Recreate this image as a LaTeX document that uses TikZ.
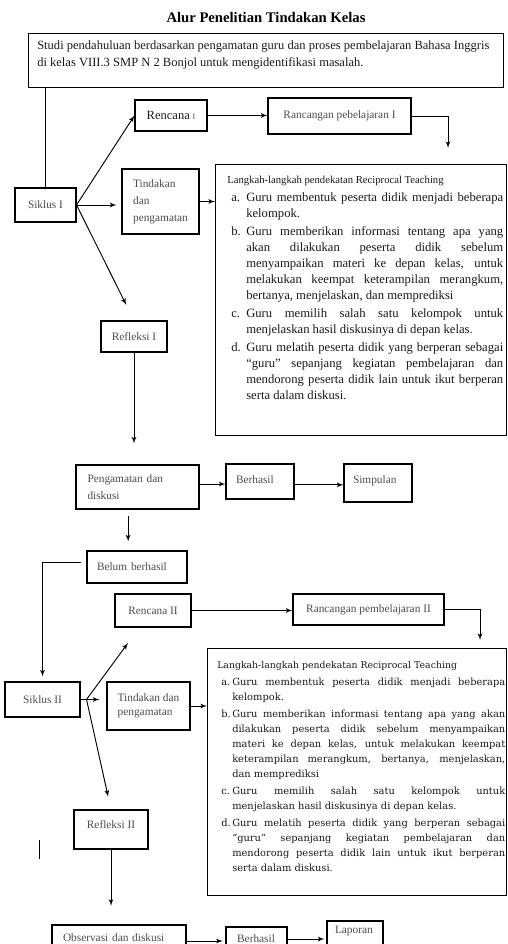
\documentclass[tikz,border=0pt]{standalone}
\usepackage{fontspec}
\setmainfont{Liberation Serif}
\newfontfamily\cambriafont{DejaVu Serif}
\usepackage{tikz}
\usetikzlibrary{arrows,positioning}

% one step of the list: hanging indent, label, text
\newcommand{\butir}[3]{\par\hangindent=#1\hangafter=1\noindent\makebox[#1][l]{\hspace{3pt}#2}#3\par}

\begin{document}
\begin{tikzpicture}[
    x=0.75pt, y=-0.75pt,
    >=latex',
    font=\normalfont,
    boxdim/.style 2 args={
		minimum width=#1*0.75pt,
		minimum height=#2*0.75pt
	},
    stagebox/.style={
		rectangle,
		draw=black,
		line width=0.8pt,
		inner sep=0pt,
		text=black!70,
		font=\fontsize{8.5}{12.75}\selectfont
	},
	raised/.style={
		text height=6pt,
		text depth=#1
	},
	stepsframe/.style={
		rectangle,
		draw=black,
		line width=0.9pt,
		inner sep=0pt,
		anchor=north west
	},
	stepstext/.style={
		inner sep=0pt,
		align=justify,
		text=black!90
	},
	link/.style={
		->,
		line width=0.7pt
	}
  ]
  \useasboundingbox (0,0) rectangle (507,944);

  % title and the first study
  \node [font=\bfseries\fontsize{11}{13}\selectfont] (judul) at (266,18) {Alur Penelitian Tindakan Kelas};

  \node [stepsframe, boxdim={475}{54}] (studi) at (28,33) {};
  \node [below right=5.5pt and 6.75pt of studi.north west, inner sep=0pt, align=left, text=black!90,
         font=\fontsize{9.4}{12.75}\selectfont] (studiteks)
 {Studi pendahuluan berdasarkan pengamatan guru dan proses pembelajaran Bahasa Inggris\\
  di kelas VIII.3 SMP N 2 Bonjol untuk mengidentifikasi masalah.};

  % cycle I
  \node [stagebox, boxdim={61}{34}] (siklussatu) at (45.5,205) {Siklus I};

  \node [stagebox, boxdim={72}{31}] (rencanasatu) at (171,115.5)
 {{\fontsize{9.4}{11}\selectfont\color{black!90}Rencana} {\fontsize{6}{7}\selectfont I}};

  \node [stagebox, boxdim={143}{36}] (rancangansatu) at (339.5,116) {Rancangan pebelajaran I};

  \node [stagebox, boxdim={77}{65}] (tindakansatu) at (160.5,201.5)
 {%
 \begin{tabular}{@{}l@{}}
  Tindakan\\
  dan\\
  pengamatan
 \end{tabular}
 };

  \node [stepsframe, boxdim={290.5}{271}] (langkahsatu) at (215,164) {};
  \node [stepstext, below right=9pt and 9pt of langkahsatu.north west, text width=207pt] (isisatu)
 {%
  {\fontsize{8}{11}\selectfont Langkah-langkah pendekatan Reciprocal Teaching\par}
  \fontsize{9.5}{12}\selectfont\parskip=1.5pt\tolerance=10000\hyphenpenalty=10000
  \butir{14.25pt}{a.}{Guru membentuk peserta didik menjadi beberapa\linebreak kelompok.}
  \butir{14.25pt}{b.}{Guru memberikan informasi tentang apa yang\linebreak akan dilakukan peserta didik sebelum\linebreak menyampaikan materi ke depan kelas, untuk\linebreak melakukan keempat keterampilan merangkum,\linebreak bertanya, menjelaskan, dan memprediksi}
  \butir{14.25pt}{c.}{Guru memilih salah satu kelompok untuk\linebreak menjelaskan hasil diskusinya di depan kelas.}
  \butir{14.25pt}{d.}{Guru melatih peserta didik yang berperan sebagai\linebreak “guru” sepanjang kegiatan pembelajaran dan\linebreak mendorong peserta didik lain untuk ikut berperan\linebreak serta dalam diskusi.}
 };

  \node [stagebox, boxdim={66}{31}] (refleksisatu) at (134,336.5) {Refleksi I};

  \node [stagebox, boxdim={123}{44}, text width=75pt, align=left] (pengamatan) at (137.5,487)
 {Pengamatan dan\\ diskusi};
  \node [stagebox, boxdim={68}{35}, text width=36pt, align=left, raised=3pt] (berhasilsatu) at (260,481.5) {Berhasil};
  \node [stagebox, boxdim={68}{38}, text width=37.5pt, align=left, raised=5pt] (simpulan) at (378,483) {Simpulan};
  \node [stagebox, boxdim={100}{32}, text width=60pt, align=left] (belum) at (137,567) {Belum berhasil};

  % cycle II
  \node [stagebox, boxdim={76}{33}] (rencanadua) at (153,610.5) {Rencana II};
  \node [stagebox, boxdim={151}{31}] (rancangandua) at (368.5,609.5) {Rancangan pembelajaran II};
  \node [stagebox, boxdim={75}{35}] (siklusdua) at (42.5,699.5) {Siklus II};
  \node [stagebox, boxdim={83}{48}, font=\fontsize{8.5}{10.5}\selectfont] (tindakandua) at (148.5,706)
 {%
 \begin{tabular}{@{}l@{}}
  Tindakan dan\\
  pengamatan
 \end{tabular}
 };

  \node [stepsframe, boxdim={298.5}{247}] (langkahdua) at (207,648) {};
  \node [stepstext, below right=9.75pt and 7.5pt of langkahdua.north west, text width=216pt] (isidua)
 {%
  \cambriafont
  {\fontsize{7}{10}\selectfont Langkah-langkah pendekatan Reciprocal Teaching\par}
  \fontsize{7.4}{11.25}\selectfont\parskip=1.5pt\tolerance=10000\hyphenpenalty=10000
  \butir{11.25pt}{a.}{Guru membentuk peserta didik menjadi beberapa\linebreak kelompok.}
  \butir{11.25pt}{b.}{Guru memberikan informasi tentang apa yang akan\linebreak dilakukan peserta didik sebelum menyampaikan\linebreak materi ke depan kelas, untuk melakukan keempat\linebreak keterampilan merangkum, bertanya, menjelaskan,\linebreak dan memprediksi}
  \butir{11.25pt}{c.}{Guru memilih salah satu kelompok untuk\linebreak menjelaskan hasil diskusinya di depan kelas.}
  \butir{11.25pt}{d.}{Guru melatih peserta didik yang berperan sebagai\linebreak “guru” sepanjang kegiatan pembelajaran dan\linebreak mendorong peserta didik lain untuk ikut berperan\linebreak serta dalam diskusi.}
 };

  \node [stagebox, boxdim={74}{39}, raised=7pt] (refleksidua) at (111,829.5) {Refleksi II};
  \node [stagebox, boxdim={134}{40}, text width=84pt, align=left, raised=11pt] (observasi) at (119,945) {Observasi dan diskusi};
  \node [stagebox, boxdim={61}{33}, text width=29pt, align=left, raised=8pt] (berhasildua) at (256.5,943.5) {Berhasil};
  \node [stagebox, boxdim={56}{39}, text width=30pt, align=left, raised=17pt] (laporan) at (355,940.5) {Laporan};

  % free arrow ends
  \coordinate (turunsatu) at (448,148);
  \coordinate (turundua) at (480,640);
  \coordinate (fandua) at ([xshift=4.5pt]siklusdua.east);
  \coordinate (ujungrencana) at (128,643);

  % connectors of cycle I
  \draw [line width=0.7pt] (siklussatu.north |- studi.south) -- (siklussatu.north);
  \draw [link] (siklussatu.east) -- (rencanasatu.west);
  \draw [link, shorten >=3.75pt] (siklussatu.east) -- (siklussatu.east -| tindakansatu.west);
  \draw [link, shorten >=13pt] (siklussatu.east) -- (refleksisatu.north);
  \draw [link] (rencanasatu.east) -- (rencanasatu.east -| rancangansatu.west);
  \draw [link] (rancangansatu.east) -| (turunsatu);
  \draw [link] (tindakansatu.east) -- (tindakansatu.east -| langkahsatu.west);
  \draw [link, shorten >=15.75pt] (refleksisatu.south) -- (refleksisatu.south |- pengamatan.north);
  \draw [link] ([yshift=2.25pt]pengamatan.east) -- ([yshift=2.25pt]pengamatan.east -| berhasilsatu.west);
  \draw [link] ([yshift=-2.5pt]berhasilsatu.east) -- ([yshift=-2.5pt]berhasilsatu.east -| simpulan.west);
  \draw [link, shorten <=4.5pt, shorten >=6.75pt] ([xshift=-7pt]pengamatan.south) -- ([xshift=-7pt]pengamatan.south |- belum.north);
  \draw [link, shorten >=3.75pt] ([xshift=-3.75pt, yshift=3.75pt]belum.west) -| (siklusdua.north);

  % connectors of cycle II
  \draw [link] (rencanadua.east) -- (rencanadua.east -| rancangandua.west);
  \draw [link] (rancangandua.east) -| (turundua);
  \draw [line width=0.7pt] (siklusdua.east) -- (fandua);
  \draw [link] (fandua) -- (ujungrencana);
  \draw [link, shorten >=5.25pt] (fandua) -- (fandua -| tindakandua.west);
  \draw [link, shorten >=9.75pt] (fandua) -- (refleksidua.north);
  \draw [link] (tindakandua.east) -- (tindakandua.east -| langkahdua.west);
  \draw [link, shorten >=14pt] (refleksidua.south) -- (refleksidua.south |- observasi.north);
  \draw [link, shorten >=2pt] ([yshift=3pt]observasi.east) -- ([yshift=3pt]observasi.east -| berhasildua.west);
  \draw [link, shorten >=1.5pt] ([yshift=3.4pt]berhasildua.east) -- ([yshift=3.4pt]berhasildua.east -| laporan.west);

  % short stray stroke
  \draw [line width=0.7pt] (39,840) -- (39,859);

\end{tikzpicture}
\end{document}
